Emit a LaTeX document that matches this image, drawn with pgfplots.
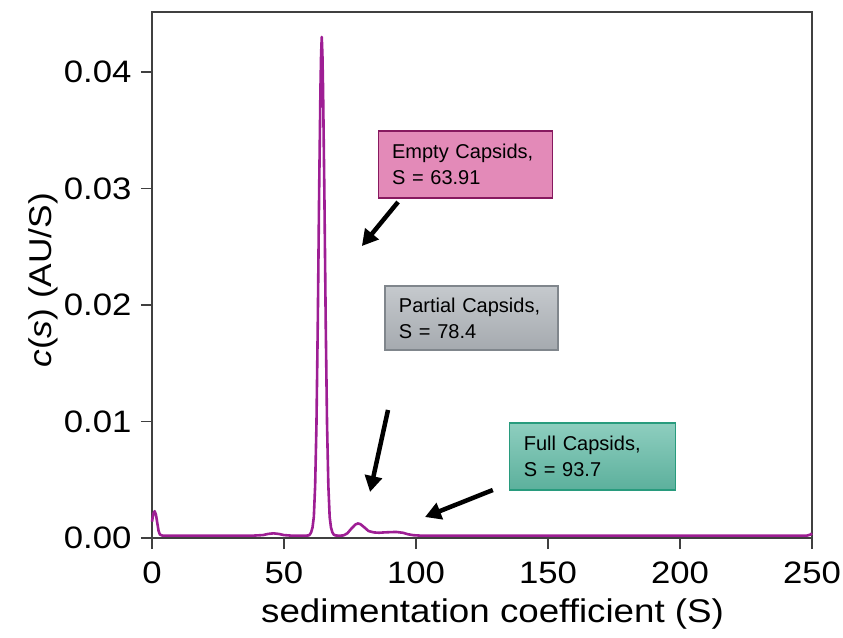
\documentclass[border=0pt]{standalone}
\usepackage{pgfplots}
\pgfplotsset{compat=1.18}
\usepackage{fontspec}
\setmainfont{Liberation Sans}
\newfontfamily\widefont[FakeStretch=1.12]{Liberation Sans}
\usetikzlibrary{arrows.meta}
\definecolor{curve}{RGB}{158,30,148}
\definecolor{emptyfill}{RGB}{227,138,184}
\definecolor{emptydraw}{RGB}{135,25,95}
\definecolor{parttop}{RGB}{197,201,205}
\definecolor{partbot}{RGB}{165,170,175}
\definecolor{partdraw}{RGB}{128,134,140}
\definecolor{fulltop}{RGB}{142,206,191}
\definecolor{fullbot}{RGB}{92,176,156}
\definecolor{fulldraw}{RGB}{40,155,125}
\begin{document}
\begin{tikzpicture}
\begin{axis}[
  name=main,
  scale only axis,
  width=660pt, height=526pt,
  xmin=0, xmax=250, ymin=0, ymax=0.04515,
  xtick={0,50,100,150,200,250},
  ytick={0,0.01,0.02,0.03,0.04},
  scaled y ticks=false,
  /pgf/number format/assume math mode=true,
  ticklabel style={font=\widefont\fontsize{31}{37}\selectfont},
  yticklabel style={/pgf/number format/fixed, /pgf/number format/fixed zerofill, /pgf/number format/precision=2, xshift=-6pt},
  xticklabel style={yshift=-9pt},
  tick pos=left,
  tick align=outside,
  major tick length=11pt,
  axis line style={black!75, line width=1.6pt},
  every tick/.style={black!75, line width=1.6pt},
  xlabel={sedimentation coefficient (S)},
  ylabel={\textit{c}(\textit{s}) (AU/S)},
  xlabel style={font=\widefont\fontsize{32.8}{38}\selectfont, at={(axis description cs:0.516,-0.144)}, anchor=center},
  ylabel style={font=\widefont\fontsize{31.5}{37}\selectfont, at={(axis description cs:-0.165,0.49)}, anchor=center},
  clip=false,
]
\addplot[curve, line width=2.6pt, line join=round] coordinates {
(0,0.0014) (0.5,0.0021) (1,0.0023) (1.5,0.0020) (2,0.0013) (2.5,0.0006) (3,0.0003) (4,0.0002)
(10,0.0002) (20,0.0002) (30,0.0002) (38,0.0002) (42,0.00025) (44,0.00035) (46,0.0004) (48,0.00035) (50,0.00025) (53,0.0002)
(58,0.0002) (59.3,0.00022) (59.8,0.0003) (60.3,0.0005) (60.8,0.0009) (61.3,0.0018) (61.8,0.0045)
(62.3,0.0098) (62.8,0.0185) (63.3,0.0295) (63.8,0.0385) (64.05,0.0415) (64.3,0.0430)
(64.55,0.0415) (64.8,0.0385) (65.3,0.0295) (65.8,0.0185) (66.3,0.0098) (66.8,0.0045)
(67.3,0.0018) (67.8,0.0009) (68.3,0.0005) (68.8,0.0003) (69.5,0.00022) (71,0.0002)
(72.5,0.00022) (74,0.0004) (75.5,0.0008) (77,0.00115) (78,0.00125) (79,0.00118) (80.5,0.0009)
(82,0.0006) (84,0.00048) (86,0.00045) (88,0.00048) (90,0.0005) (92.5,0.00052) (95,0.00045)
(97,0.00032) (99,0.00024) (102,0.0002) (120,0.0002) (150,0.0002) (200,0.0002) (240,0.0002)
(248,0.0002) (249.5,0.0003) (250,0.0004)
};
% annotation boxes
\node[draw=emptydraw, line width=1.2pt, fill=emptyfill, minimum width=174pt, minimum height=67pt,
  text width=146pt, inner xsep=14pt, align=left, font=\fontsize{20}{26}\selectfont]
  at (axis cs:118.6,0.03206) {Empty Capsids,\\S = 63.91};
\node[draw=partdraw, line width=1.2pt, top color=parttop, bottom color=partbot, minimum width=173pt, minimum height=64pt,
  text width=145pt, inner xsep=14pt, align=left, font=\fontsize{20}{26}\selectfont]
  at (axis cs:121,0.01888) {Partial Capsids,\\S = 78.4};
\node[draw=fulldraw, line width=1.2pt, top color=fulltop, bottom color=fullbot, minimum width=166pt, minimum height=67pt,
  text width=138pt, inner xsep=14pt, align=left, font=\fontsize{20}{26}\selectfont]
  at (axis cs:167,0.0070) {Full Capsids,\\S = 93.7};
% arrows
\draw[line width=4.5pt, -{Triangle[length=16pt,width=17pt]}] (axis cs:93.2,0.02884) -- (axis cs:79.5,0.02506);
\draw[line width=4.5pt, -{Triangle[length=16pt,width=17pt]}] (axis cs:89.4,0.01099) -- (axis cs:82.6,0.00395);
\draw[line width=4.5pt, -{Triangle[length=16pt,width=17pt]}] (axis cs:129.1,0.00412) -- (axis cs:103.4,0.00180);
\end{axis}
\pgfresetboundingbox
\path ([xshift=-152pt,yshift=-99pt]main.south west) rectangle ([xshift=31pt,yshift=12pt]main.north east);
\end{tikzpicture}
\end{document}
